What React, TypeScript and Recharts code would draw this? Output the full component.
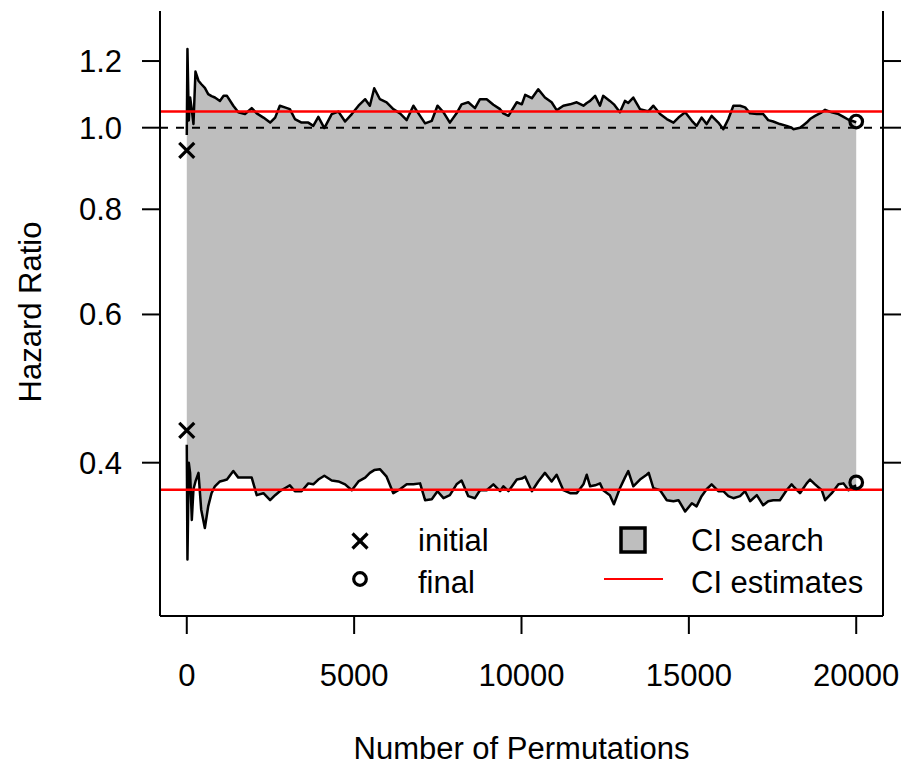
import React from 'react';
import { ComposedChart, XAxis, YAxis, Area, Line, Scatter, ReferenceLine } from 'recharts';

const FONT = '"Liberation Sans", Arial, Helvetica, sans-serif';

// Number of permutations (x) and the running CI bounds (hazard ratio)
const permutations = [
  0, 20, 60, 100, 150, 200, 260, 350, 430, 540, 640, 740, 840, 990, 1100, 1200,
  1390, 1540, 1740, 1940, 2090, 2290, 2490, 2640, 2780, 2930, 3080, 3230, 3430, 3630,
  3780, 3930, 4110, 4330, 4530, 4730, 4930, 5130, 5330, 5470, 5600, 5770, 5970, 6170,
  6370, 6570, 6770, 6970, 7120, 7320, 7490, 7670, 7860, 8060, 8210, 8410, 8610, 8760,
  8960, 9160, 9360, 9460, 9610, 9860, 10010, 10110, 10310, 10500, 10700, 10900, 11050,
  11250, 11450, 11650, 11850, 11950, 12050, 12200, 12345, 12440, 12640, 12760, 12940,
  13090, 13190, 13340, 13540, 13740, 13800, 13940, 14140, 14340, 14540, 14690, 14890,
  15090, 15230, 15380, 15530, 15680, 15880, 16030, 16180, 16330, 16530, 16680, 16830,
  17030, 17220, 17370, 17520, 17720, 17920, 18070, 18120, 18320, 18420, 18520, 18620,
  18770, 18970, 19070, 19270, 19470, 19620, 19770, 19870, 20000,
];

const upperHR = [
  0.98, 1.24, 1.02, 1.086, 1.05, 1.01, 1.166, 1.137, 1.127, 1.115, 1.096, 1.09, 1.086, 1.076, 1.091, 1.091,
  1.062, 1.043, 1.038, 1.055, 1.04, 1.028, 1.014, 1.028, 1.062, 1.057, 1.052, 1.024, 1.014, 1.014,
  1.005, 1.03, 0.999, 1.038, 1.045, 1.017, 1.038, 1.062, 1.081, 1.062, 1.114, 1.081, 1.072, 1.052,
  1.04, 1.021, 1.062, 1.033, 1.012, 1.019, 1.062, 1.043, 1.014, 1.04, 1.066, 1.072, 1.055, 1.081,
  1.081, 1.065, 1.052, 1.04, 1.033, 1.072, 1.066, 1.094, 1.084, 1.111, 1.086, 1.072, 1.049,
  1.062, 1.066, 1.072, 1.062, 1.07, 1.076, 1.091, 1.062, 1.091, 1.076, 1.066, 1.043,
  1.076, 1.07, 1.086, 1.052, 1.047, 1.047, 1.062, 1.038, 1.024, 1.014, 1.028, 1.043,
  1.019, 1.005, 1.028, 1.01, 1.033, 1.014, 0.996, 1.024, 1.062, 1.062, 1.057, 1.04,
  1.038, 1.038, 1.021, 1.017, 1.01, 1.005, 1.0, 0.996, 1.0, 1.007, 1.014, 1.024,
  1.033, 1.043, 1.05, 1.043, 1.038, 1.03, 1.022, 1.019, 1.015,
];

const lowerHR = [
  0.42, 0.307, 0.4, 0.389, 0.342, 0.372, 0.38, 0.389, 0.352, 0.3345, 0.355, 0.368, 0.375, 0.38, 0.381, 0.382,
  0.391, 0.384, 0.384, 0.384, 0.366, 0.368, 0.361, 0.366, 0.37, 0.373, 0.376, 0.37, 0.37, 0.378,
  0.377, 0.382, 0.386, 0.381, 0.38, 0.377, 0.371, 0.38, 0.384, 0.389, 0.392, 0.393, 0.385, 0.368,
  0.372, 0.377, 0.377, 0.378, 0.361, 0.362, 0.37, 0.363, 0.366, 0.377, 0.381, 0.365, 0.363, 0.371,
  0.371, 0.377, 0.37, 0.375, 0.37, 0.382, 0.383, 0.385, 0.37, 0.38, 0.389, 0.38, 0.387,
  0.371, 0.368, 0.368, 0.377, 0.387, 0.375, 0.376, 0.378, 0.371, 0.366, 0.357, 0.373,
  0.384, 0.391, 0.375, 0.382, 0.387, 0.389, 0.373, 0.371, 0.361, 0.36, 0.361, 0.35,
  0.358, 0.355, 0.365, 0.372, 0.377, 0.37, 0.37, 0.365, 0.363, 0.365, 0.37, 0.36,
  0.366, 0.356, 0.36, 0.361, 0.361, 0.371, 0.377, 0.375, 0.368, 0.373, 0.378, 0.382,
  0.377, 0.371, 0.361, 0.368, 0.377, 0.378, 0.371, 0.374, 0.376,
];

const xTicks = [0, 5000, 10000, 15000, 20000];
const yTicks = [0.4, 0.6, 0.8, 1.0, 1.2];

const initialBounds = [0.94, 0.437]; // at permutation 0
const finalBounds = [1.017, 0.379]; // at permutation 20000
const ciEstimates = [1.045, 0.3715];
const nullValue = 1.0;

const X_DOMAIN: [number, number] = [-800, 20800];
const Y_DOMAIN: [number, number] = [0.263, 1.376];

const rows = permutations.map((n, i) => ({
  n,
  upper: upperHR[i],
  lower: lowerHR[i],
  band: [lowerHR[i], upperHR[i]],
}));
const initialData = initialBounds.map((hr) => ({ n: 0, hr }));
const finalData = finalBounds.map((hr) => ({ n: 20000, hr }));

const Cross = (props: any) => {
  const { cx, cy } = props;
  const s = 7.5;
  return (
    <g>
      <line x1={cx - s} y1={cy - s} x2={cx + s} y2={cy + s} stroke="#000" strokeWidth={3.2} />
      <line x1={cx - s} y1={cy + s} x2={cx + s} y2={cy - s} stroke="#000" strokeWidth={3.2} />
    </g>
  );
};

const Ring = (props: any) => {
  const { cx, cy } = props;
  return <circle cx={cx} cy={cy} r={6.3} fill="none" stroke="#000" strokeWidth={3.2} />;
};

const textStyle = { fontFamily: FONT, fontSize: 31, fill: '#000' };

const Decorations = () => (
  <g>
    <text x={521.5} y={759} textAnchor="middle" style={textStyle}>Number of Permutations</text>
    <text transform="translate(41,312) rotate(-90)" textAnchor="middle" style={textStyle}>Hazard Ratio</text>
    {/* legend */}
    <Cross cx={360} cy={541} />
    <Ring cx={360} cy={579} />
    <text x={418} y={551} style={textStyle}>initial</text>
    <text x={418} y={593} style={textStyle}>final</text>
    <rect x={621} y={528} width={24} height={24} fill="#bebebe" stroke="#000" strokeWidth={3.5} />
    <line x1={604} y1={579} x2={663} y2={579} stroke="#ff0000" strokeWidth={2} />
    <text x={691} y={551} style={textStyle}>CI search</text>
    <text x={691} y={593} style={textStyle}>CI estimates</text>
  </g>
);

export default function App() {
  return (
    <div style={{ position: 'absolute', left: 0, top: 0, background: '#fff' }}>
      <ComposedChart
        width={904}
        height={770}
        data={rows}
        margin={{ top: 11, right: 0, bottom: 0, left: 0 }}
      >
        <XAxis
          xAxisId="bottom"
          type="number"
          dataKey="n"
          domain={X_DOMAIN}
          allowDataOverflow
          ticks={xTicks}
          orientation="bottom"
          height={154}
          tickSize={18}
          tickMargin={30}
          axisLine={{ stroke: '#000', strokeWidth: 2 }}
          tickLine={{ stroke: '#000', strokeWidth: 2 }}
          tick={textStyle}
          interval={0}
        />
        <XAxis
          xAxisId="top"
          type="number"
          dataKey="n"
          domain={X_DOMAIN}
          allowDataOverflow
          orientation="top"
          height={0}
          tick={false}
          tickLine={false}
          axisLine={{ stroke: '#000', strokeWidth: 2 }}
        />
        <YAxis
          yAxisId="left"
          type="number"
          scale="log"
          domain={Y_DOMAIN}
          allowDataOverflow
          ticks={yTicks}
          tickFormatter={(v: number) => v.toFixed(1)}
          width={160}
          tickSize={18}
          tickMargin={20}
          axisLine={{ stroke: '#000', strokeWidth: 2 }}
          tickLine={{ stroke: '#000', strokeWidth: 2 }}
          tick={textStyle}
          interval={0}
        />
        <YAxis
          yAxisId="right"
          orientation="right"
          type="number"
          scale="log"
          domain={Y_DOMAIN}
          allowDataOverflow
          ticks={yTicks}
          tickFormatter={() => ''}
          width={21}
          tickSize={18}
          axisLine={{ stroke: '#000', strokeWidth: 2 }}
          tickLine={{ stroke: '#000', strokeWidth: 2 }}
          interval={0}
        />
        <Area
          xAxisId="bottom"
          yAxisId="left"
          type="linear"
          dataKey="band"
          fill="#bebebe"
          fillOpacity={1}
          stroke="none"
          isAnimationActive={false}
        />
        <Line
          xAxisId="bottom"
          yAxisId="left"
          type="linear"
          dataKey="upper"
          stroke="#000"
          strokeWidth={2.5}
          strokeLinejoin="round"
          dot={false}
          activeDot={false}
          isAnimationActive={false}
        />
        <Line
          xAxisId="bottom"
          yAxisId="left"
          type="linear"
          dataKey="lower"
          stroke="#000"
          strokeWidth={2.5}
          strokeLinejoin="round"
          dot={false}
          activeDot={false}
          isAnimationActive={false}
        />
        <ReferenceLine
          xAxisId="bottom"
          yAxisId="left"
          y={nullValue}
          stroke="#000"
          strokeWidth={2}
          strokeDasharray="8 8"
        />
        {ciEstimates.map((v) => (
          <ReferenceLine
            key={v}
            xAxisId="bottom"
            yAxisId="left"
            y={v}
            stroke="#ff0000"
            strokeWidth={2.5}
          />
        ))}
        <Scatter
          xAxisId="bottom"
          yAxisId="left"
          data={initialData}
          dataKey="hr"
          shape={<Cross />}
          isAnimationActive={false}
        />
        <Scatter
          xAxisId="bottom"
          yAxisId="left"
          data={finalData}
          dataKey="hr"
          shape={<Ring />}
          isAnimationActive={false}
        />
        <Decorations />
      </ComposedChart>
    </div>
  );
}
